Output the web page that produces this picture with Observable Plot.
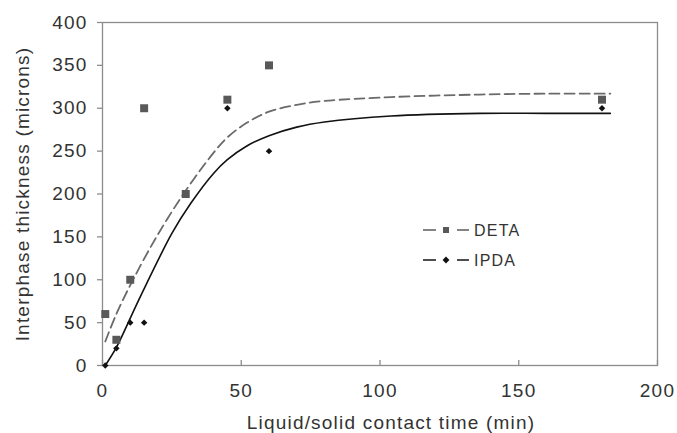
<!DOCTYPE html>
<html><head><meta charset="utf-8">
<script src="https://cdn.jsdelivr.net/npm/d3@7"></script>
<script src="https://cdn.jsdelivr.net/npm/@observablehq/plot@0.6"></script>
<style>
body{margin:0;background:#fff;}
#chart{position:relative;width:677px;height:433px;font-family:"Liberation Sans",Arial,sans-serif;}
#chart svg{letter-spacing:1.2px;}
#legend{position:absolute;left:418px;top:215px;}
</style></head><body><div id="chart"></div>
<script>
// measured points
const detaX = [1, 5, 10, 15, 30, 45, 60, 180];
const detaY = [60, 30, 100, 300, 200, 310, 350, 310];
const ipdaX = [1, 5, 10, 15, 45, 60, 180];
const ipdaY = [0, 20, 50, 50, 300, 250, 300];
// fitted curves
const detaFitX = [1, 5, 11, 20, 30, 40, 45, 52, 60, 70, 80, 104, 136, 160, 183];
const detaFitY = [28, 60, 100, 153, 204, 248, 266, 283, 296, 304, 308.5, 313, 316, 317, 317];
const ipdaFitX = [1, 5, 13, 25, 32, 40, 45, 52, 60, 70, 80, 104, 136, 160, 183];
const ipdaFitY = [0, 21, 76, 154, 190, 224, 240, 256, 268, 278, 284, 291, 294, 294, 294];
const xTicks = [0, 50, 100, 150, 200];
const yTicks = [0, 50, 100, 150, 200, 250, 300, 350, 400];
const seriesNames = ["DETA", "IPDA"];
const xLabel = "Liquid/solid contact time (min)";
const yLabel = "Interphase thickness (microns)";

const deta = detaX.map((x, i) => ({x, y: detaY[i]}));
const ipda = ipdaX.map((x, i) => ({x, y: ipdaY[i]}));
const detaFit = detaFitX.map((x, i) => ({x, y: detaFitY[i]}));
const ipdaFit = ipdaFitX.map((x, i) => ({x, y: ipdaFitY[i]}));

const axisGray = "#8c8c8c";
const plot = Plot.plot({
  width: 677, height: 433,
  marginLeft: 102, marginRight: 20, marginTop: 22, marginBottom: 68,
  style: {fontFamily: '"Liberation Sans", Arial, sans-serif', fontSize: "19px", color: "#333", background: "#fff", overflow: "visible"},
  x: {domain: [0, 200]},
  y: {domain: [0, 400]},
  marks: [
    Plot.frame({stroke: axisGray, strokeWidth: 1.3}),
    Plot.axisY(yTicks, {tickSize: 5, tickPadding: 10, stroke: axisGray, strokeWidth: 1.3, label: null}),
    Plot.axisX(xTicks, {tickSize: -5, tickPadding: 23, stroke: axisGray, strokeWidth: 1.3, label: null}),
    Plot.text([yLabel], {frameAnchor: "left", dx: -80, rotate: -90, textAnchor: "middle", lineAnchor: "middle", fill: "#333"}),
    Plot.text([xLabel], {frameAnchor: "bottom", dx: 11, dy: 57, textAnchor: "middle", lineAnchor: "middle", fill: "#333"}),
    Plot.line(detaFit, {x: "x", y: "y", curve: "catmull-rom", stroke: "#6a6a6a", strokeWidth: 1.8, strokeDasharray: "10,5"}),
    Plot.line(ipdaFit, {x: "x", y: "y", curve: "catmull-rom", stroke: "#111", strokeWidth: 1.6}),
    Plot.dot(deta, {x: "x", y: "y", symbol: "square", r: 4.5, fill: "#595959", stroke: null}),
    Plot.dot(ipda, {x: "x", y: "y", symbol: "diamond2", r: 2.9, fill: "#111", stroke: null})
  ]
});
const chart = document.getElementById("chart");
chart.appendChild(plot);

// legend overlay
const lg = d3.select(chart).append("svg").attr("id", "legend").attr("width", 120).attr("height", 56)
  .style("font-family", '"Liberation Sans", Arial, sans-serif').style("letter-spacing", "1.2px");
const legendColors = ["#666", "#222"];
const legendMarkFill = ["#595959", "#111"];
seriesNames.forEach((name, i) => {
  const cy = 15 + i * 30;
  const g = lg.append("g").attr("transform", `translate(0,${cy})`);
  g.append("line").attr("x1", 5).attr("x2", 18).attr("stroke", legendColors[i]).attr("stroke-width", 1.6);
  g.append("line").attr("x1", 39).attr("x2", 51).attr("stroke", legendColors[i]).attr("stroke-width", 1.6);
  const sym = i === 0 ? d3.symbolSquare : d3.symbolDiamond2;
  const size = i === 0 ? 36 : 30;
  g.append("path").attr("d", d3.symbol(sym, size)()).attr("transform", "translate(28,0)").attr("fill", legendMarkFill[i]);
  g.append("text").attr("x", 56).attr("y", 0).attr("dy", "0.35em").attr("font-size", 16).attr("fill", "#333").text(name);
});
</script></body></html>
